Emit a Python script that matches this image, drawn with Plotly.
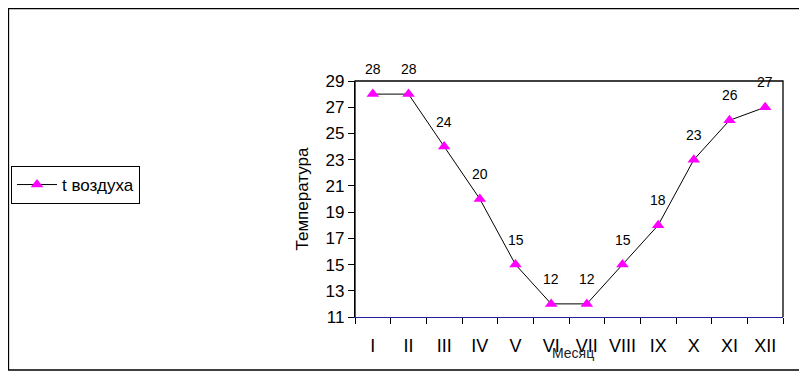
import plotly.graph_objects as go

months = ["I", "II", "III", "IV", "V", "VI", "VII", "VIII", "IX", "X", "XI", "XII"]
temps = [28, 28, 24, 20, 15, 12, 12, 15, 18, 23, 26, 27]
y_ticks = [11, 13, 15, 17, 19, 21, 23, 25, 27, 29]
series_name = "t воздуха"

W, H = 807, 377
# page body has an 8px margin, so figure coords = screen coords - 8
L, R, T, B = 347, 32, 73, 68
PW, PH = W - L - R, H - T - B

fig = go.Figure()
fig.add_trace(go.Scatter(
    x=months, y=temps, mode="lines+markers", name=series_name,
    line=dict(color="black", width=1),
    marker=dict(symbol="triangle-up", size=11, color="#ff00ff"),
    cliponaxis=False,
))

for m, t in zip(months, temps):
    fig.add_annotation(x=m, y=t, text=str(t), showarrow=False, yshift=25,
                       font=dict(family="Liberation Sans, Arial", size=14, color="black"))

# x axis title overlapping tick labels like the original
fig.add_annotation(x=0.5, y=0, xref="paper", yref="paper", text="Месяц",
                   showarrow=False, yshift=-46, xshift=4,
                   font=dict(family="Liberation Sans, Arial", size=14, color="#222"))

# Plot-area border (left, top, right) in black
fig.add_shape(type="path", xref="paper", yref="paper",
              path="M0,0 L0,1 L1,1 L1,0", line=dict(color="black", width=1.3))

# Outer chart border
fig.add_shape(type="rect", xref="paper", yref="paper",
              x0=(0.5 - L) / PW, x1=(793 - L) / PW,
              y0=-(362 - (H - B)) / PH, y1=1 + (T - 0.5) / PH,
              line=dict(color="black", width=1.3))

fig.update_layout(
    width=W, height=H,
    margin=dict(l=L, r=R, t=T, b=B, autoexpand=False),
    paper_bgcolor="white", plot_bgcolor="white",
    showlegend=True,
    legend=dict(xref="container", yref="container",
                x=3 / W, y=1 - 177 / H, xanchor="left", yanchor="middle",
                bordercolor="black", borderwidth=1, bgcolor="white",
                font=dict(family="Liberation Sans, Arial", size=17, color="black"),
                itemwidth=40, tracegroupgap=0),
    xaxis=dict(
        type="category", tickson="boundaries", tickangle=0,
        showline=True, linecolor="#2020a0", linewidth=1.3,
        ticks="outside", ticklen=6, tickcolor="black",
        ticklabelstandoff=12,
        showgrid=False, zeroline=False,
        tickfont=dict(family="Liberation Sans, Arial", size=18, color="black"),
        range=[-0.5, 11.5], automargin=False,
    ),
    yaxis=dict(
        range=[11, 29], tickvals=y_ticks,
        showline=True, linecolor="black", linewidth=1.3,
        ticks="outside", ticklen=6, tickcolor="black",
        showgrid=False, zeroline=False, automargin=False,
        tickfont=dict(family="Liberation Sans, Arial", size=17, color="black"),
        title=dict(text="Температура", standoff=12,
                   font=dict(family="Liberation Sans, Arial", size=17, color="black")),
    ),
)

fig.write_html("out.html")
